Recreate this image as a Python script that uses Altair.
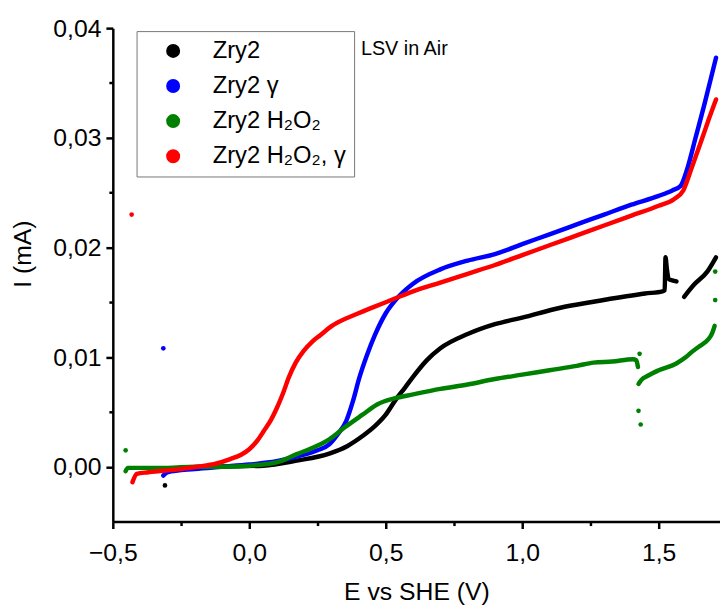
import altair as alt
import pandas as pd

# ---------------- data ----------------
S_BLACK = "Zry2"
S_BLUE = "Zry2 γ"
S_GREEN = "Zry2 H₂O₂"
S_RED = "Zry2 H₂O₂, γ"
series_order = [S_BLACK, S_BLUE, S_GREEN, S_RED]
series_colors = ["#000000", "#0000ff", "#008000", "#ff0000"]

black_E1 = [-0.31, -0.25, -0.15, -0.05, 0.05, 0.174, 0.293, 0.36, 0.415, 0.46, 0.5, 0.536, 0.57, 0.6,
            0.65, 0.7, 0.8, 0.9, 1.0, 1.14, 1.25, 1.382, 1.45, 1.514, 1.522, 1.525, 1.530, 1.538, 1.55, 1.565]
black_I1 = [-0.0002, -0.0001, 0.0, 0.00005, 0.0001, 0.00056, 0.0012, 0.0019, 0.0028, 0.0037, 0.00475,
            0.0061, 0.0072, 0.0082, 0.0097, 0.0108, 0.0121, 0.0130, 0.0136, 0.0145, 0.0150, 0.01555,
            0.0158, 0.0160, 0.0161, 0.0191, 0.0180, 0.0171, 0.0170, 0.0169]
black_E2 = [1.593, 1.629, 1.678, 1.71]
black_I2 = [0.0155, 0.0166, 0.0178, 0.0191]

blue_E = [-0.315, -0.3, -0.2, -0.1, 0.0, 0.1, 0.2, 0.25, 0.293, 0.325, 0.355, 0.38, 0.403, 0.43, 0.46,
          0.5, 0.55, 0.6, 0.7, 0.8, 0.9, 1.0, 1.1, 1.2, 1.3, 1.4, 1.5, 1.55, 1.58, 1.605, 1.635, 1.67,
          1.69, 1.71]
blue_I = [-0.0008, -0.0005, -0.0002, 0.0, 0.0002, 0.0005, 0.0011, 0.0015, 0.00205, 0.0030, 0.00416,
          0.006, 0.0081, 0.0101, 0.0120, 0.0140, 0.0156, 0.0167, 0.0180, 0.0188, 0.0194, 0.0203, 0.0212,
          0.0221, 0.0230, 0.0239, 0.0247, 0.0252, 0.0256, 0.0272, 0.0300, 0.0333, 0.0353, 0.0373]

green_E1 = [-0.453, -0.445, -0.4, -0.3, -0.2, -0.1, 0.0, 0.1, 0.174, 0.23, 0.293, 0.35, 0.415, 0.47,
            0.536, 0.6, 0.7, 0.8, 0.9, 1.0, 1.1, 1.2, 1.261, 1.33, 1.406, 1.418, 1.424]
green_I1 = [-0.0004, -0.0001, -0.0001, -0.0001, 0.0, 0.0, 0.0001, 0.0004, 0.00115, 0.0017, 0.0025,
            0.0036, 0.00475, 0.0057, 0.00626, 0.0066, 0.0071, 0.0075, 0.0080, 0.0084, 0.0088, 0.0092,
            0.0095, 0.0096, 0.0098, 0.0097, 0.0091]
green_E2 = [1.426, 1.436, 1.46, 1.5, 1.563, 1.6, 1.623, 1.65, 1.671, 1.69, 1.697, 1.705]
green_I2 = [0.00755, 0.0079, 0.0083, 0.0088, 0.0094, 0.0100, 0.0105, 0.0110, 0.01136, 0.0119,
            0.01226, 0.01285]

red_E = [-0.428, -0.412, -0.37, -0.25, -0.19, -0.12, -0.07, -0.03, 0.0, 0.03, 0.053, 0.08, 0.101,
         0.125, 0.144, 0.17, 0.2, 0.23, 0.26, 0.3, 0.4, 0.5, 0.6, 0.7, 0.8, 0.9, 1.0, 1.1, 1.2, 1.3,
         1.4, 1.5, 1.556, 1.59, 1.62, 1.66, 1.685, 1.71]
red_I = [-0.0014, -0.00065, -0.0005, -0.0002, 0.0, 0.0003, 0.0007, 0.0011, 0.0016, 0.0024, 0.00326,
         0.0043, 0.00536, 0.0068, 0.0081, 0.0095, 0.0106, 0.0114, 0.0120, 0.0128, 0.0140, 0.0150,
         0.0160, 0.0168, 0.0176, 0.0184, 0.0193, 0.0202, 0.0211, 0.0220, 0.0229, 0.0238, 0.0244,
         0.0252, 0.0272, 0.0300, 0.0318, 0.0335]

# isolated stray points
stray_series = [S_BLACK, S_BLUE, S_GREEN, S_RED, S_GREEN, S_GREEN, S_GREEN, S_GREEN, S_GREEN]
stray_E = [-0.309, -0.315, -0.453, -0.431, 1.430, 1.426, 1.434, 1.707, 1.707]
stray_I = [-0.0017, 0.0108, 0.0015, 0.0230, 0.0103, 0.0051, 0.00385, 0.0152, 0.0178]

x_ticks = [-0.5, -0.25, 0.0, 0.25, 0.5, 0.75, 1.0, 1.25, 1.5]
y_ticks = [0.0, 0.005, 0.01, 0.015, 0.02, 0.025, 0.03, 0.035, 0.04]
x_domain = [-0.5, 1.7246]
y_domain = [-0.005, 0.04]

note_text = ["LSV in Air"]
note_E = [0.409]
note_I = [0.0381]

# ---------------- build tables ----------------
rows = []
for name, seg, Es, Is in [
    (S_BLACK, "b1", black_E1, black_I1),
    (S_BLACK, "b2", black_E2, black_I2),
    (S_BLUE, "u1", blue_E, blue_I),
    (S_GREEN, "g1", green_E1, green_I1),
    (S_GREEN, "g2", green_E2, green_I2),
    (S_RED, "r1", red_E, red_I),
]:
    for e, i in zip(Es, Is):
        rows.append({"series": name, "seg": seg, "E": e, "I": i})
lines_df = pd.DataFrame(rows)
stray_df = pd.DataFrame({"series": stray_series, "E": stray_E, "I": stray_I})
note_df = pd.DataFrame({"text": note_text, "E": note_E, "I": note_I})

FONT = "Liberation Sans"

x_major = "abs(datum.value*2 - round(datum.value*2)) < 0.001"
y_major = "abs(datum.value*100 - round(datum.value*100)) < 0.001"

x_enc = alt.X(
    "E:Q",
    scale=alt.Scale(domain=x_domain, nice=False, zero=False),
    axis=alt.Axis(
        title="E vs SHE (V)",
        values=x_ticks,
        labelExpr=f"{x_major} ? replace(format(datum.value, '.1f'), '.', ',') : ''",
        tickSize={"condition": {"test": x_major, "value": 7}, "value": 4},
        labelFlush=False,
        labelOverlap=False,
        labelPadding=12,
        titlePadding=15,
    ),
)
y_enc = alt.Y(
    "I:Q",
    scale=alt.Scale(domain=y_domain, nice=False, zero=False),
    axis=alt.Axis(
        title="I (mA)",
        values=y_ticks,
        labelExpr=f"{y_major} ? replace(format(datum.value, '.2f'), '.', ',') : ''",
        tickSize={"condition": {"test": y_major, "value": 7}, "value": 4},
        labelFlush=False,
        labelOverlap=False,
        labelPadding=5,
        titleX=-78,
        titleY=228,
    ),
)
color_scale = alt.Scale(domain=series_order, range=series_colors)

legend = alt.Legend(
    title=None,
    orient="none",
    legendX=24,
    legendY=3,
    padding=8,
    strokeColor="#777777",
    fillColor="white",
    symbolType="circle",
    symbolSize=200,
    symbolOffset=17,
    symbolStrokeWidth=0,
    labelOffset=28,
    rowPadding=11.5,
    labelFont=FONT,
    labelFontSize=24,
    labelColor="black",
    labelLimit=400,
)

points = alt.Chart(stray_df).mark_point(filled=True, size=22, opacity=1, shape="circle").encode(
    x=x_enc,
    y=y_enc,
    color=alt.Color("series:N", scale=color_scale, legend=legend),
)

lines = alt.Chart(lines_df).mark_line(strokeWidth=4.5, interpolate="monotone", strokeCap="round",
                                      strokeJoin="round").encode(
    x="E:Q",
    y="I:Q",
    color=alt.Color("series:N", scale=color_scale, legend=legend),
    detail="seg:N",
)

note = alt.Chart(note_df).mark_text(align="left", baseline="middle", font=FONT, fontSize=20,
                                    color="black").encode(x="E:Q", y="I:Q", text="text:N")

chart = (
    alt.layer(points, lines, note)
    .properties(
        width=614,
        height=499,
        autosize=alt.AutoSizeParams(type="none"),
        padding={"left": 106, "top": 17, "right": 0, "bottom": 84},
    )
    .configure_view(stroke=None)
    .configure_axis(
        grid=False,
        domainColor="black",
        domainWidth=2.5,
        tickColor="black",
        tickWidth=2.5,
        labelFont=FONT,
        labelFontSize=25,
        labelColor="black",
        titleFont=FONT,
        titleFontSize=25,
        titleFontWeight="normal",
        titleColor="black",
    )
)

chart.save("out.html", embed_options={"renderer": "svg", "actions": False})
